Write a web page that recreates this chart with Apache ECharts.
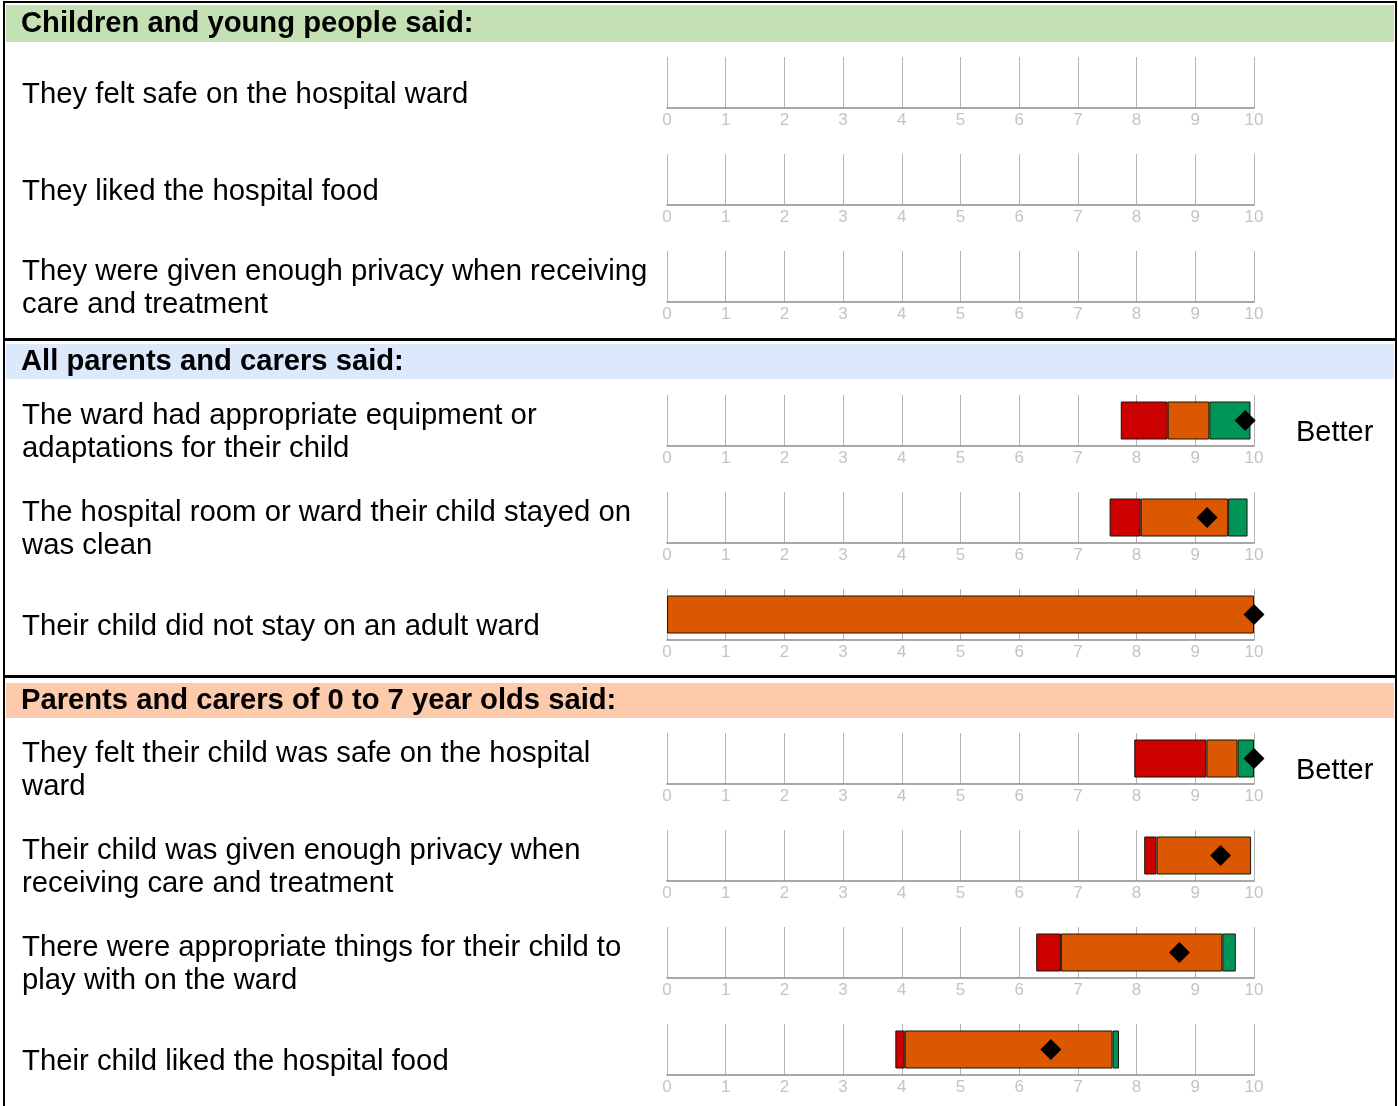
<!DOCTYPE html>
<html>
<head>
<meta charset="utf-8">
<script src="https://cdn.jsdelivr.net/npm/echarts@6/dist/echarts.min.js"></script>
<style>
html,body{margin:0;padding:0;background:#fff;}
#chart{width:1398px;height:1106px;}
</style>
</head>
<body>
<div id="chart"></div>
<script>
// ---- Data ----
const sectionTitles = [
  'Children and young people said:',
  'All parents and carers said:',
  'Parents and carers of 0 to 7 year olds said:'
];
const rowSection = [0, 0, 0, 1, 1, 1, 2, 2, 2, 2];
const rowLabels = [
  'They felt safe on the hospital ward',
  'They liked the hospital food',
  'They were given enough privacy when receiving\ncare and treatment',
  'The ward had appropriate equipment or\nadaptations for their child',
  'The hospital room or ward their child stayed on\nwas clean',
  'Their child did not stay on an adult ward',
  'They felt their child was safe on the hospital\nward',
  'Their child was given enough privacy when\nreceiving care and treatment',
  'There were appropriate things for their child to\nplay with on the ward',
  'Their child liked the hospital food'
];
const rowVerdict = ['', '', '', 'Better', '', '', 'Better', '', '', ''];
// band boundaries (score 0-10); null = no data shown
const bandStart  = [null, null, null, 7.73, 7.54, 0,    7.96, 8.13, 6.29, 3.89];
const redEnd     = [null, null, null, 8.53, 8.07, 0,    9.19, 8.34, 6.71, 4.05];
const orangeEnd  = [null, null, null, 9.24, 9.56, 10,   9.72, 9.95, 9.46, 7.59];
const greenEnd   = [null, null, null, 9.94, 9.89, 10,   10.0, 9.95, 9.69, 7.70];
const trustScore = [null, null, null, 9.85, 9.20, 10,   10.0, 9.43, 8.73, 6.54];
const tickLabels = ['0','1','2','3','4','5','6','7','8','9','10'];

// ---- Layout ----
const axisY = [108, 205, 302, 446, 543, 640, 784, 881, 978, 1075];
const gridLeft = 667, gridWidth = 587, gridH = 51;
const FONT = 'Liberation Sans, Arial, sans-serif';

const chart = echarts.init(document.getElementById('chart'), null, {renderer: 'canvas'});

const grids = [], xAxes = [], yAxes = [], series = [];
function seg(a, b) { return (a == null || b == null || b - a <= 0.0001) ? '-' : +(b - a).toFixed(3); }

axisY.forEach((ay, i) => {
  grids.push({left: gridLeft, top: ay - gridH, width: gridWidth, height: gridH, containLabel: false});
  xAxes.push({
    gridIndex: i, type: 'value', min: 0, max: 10, interval: 1,
    axisLine: {show: true, lineStyle: {color: '#8c8c8c', width: 1.5}},
    axisTick: {show: false},
    splitLine: {show: true, lineStyle: {color: '#b4b4b4', width: 1}},
    axisLabel: {show: true, color: '#c4c4c4', fontSize: 17, fontFamily: FONT, margin: 4,
      formatter: v => tickLabels[Math.round(v)] }
  });
  yAxes.push({
    gridIndex: i, type: 'category', data: [''],
    axisLine: {show: false}, axisTick: {show: false}, axisLabel: {show: false}, splitLine: {show: false}
  });
  if (bandStart[i] != null) {
    const base = bandStart[i] > 0 ? bandStart[i] : '-';
    const parts = [
      {v: base, c: 'transparent', b: 0},
      {v: seg(bandStart[i], redEnd[i]), c: '#cc0000', b: 1},
      {v: seg(redEnd[i], orangeEnd[i]), c: '#db5700', b: 1},
      {v: seg(orangeEnd[i], greenEnd[i]), c: '#009658', b: 1}
    ];
    parts.forEach((p, k) => {
      series.push({
        type: 'bar', xAxisIndex: i, yAxisIndex: i, stack: 's' + i,
        barWidth: 38, silent: true,
        itemStyle: {color: p.c, borderColor: p.b ? '#1e1208' : 'transparent', borderWidth: p.b},
        data: [p.v]
      });
    });
    series.push({
      type: 'scatter', xAxisIndex: i, yAxisIndex: i, symbol: 'diamond', symbolSize: 21,
      clip: false, z: 5, itemStyle: {color: '#000', opacity: 1},
      data: [[trustScore[i], '']]
    });
  }
});

// graphics
const graphics = [];
const bandColors = ['#c5e0b4', '#dce8fb', '#fdcbac'];
const bandY = [[5, 42], [344, 379], [683, 718]];
bandY.forEach((b, s) => {
  graphics.push({type: 'rect', z: -10, shape: {x: 6, y: b[0], width: 1388, height: b[1] - b[0]},
    style: {fill: bandColors[s]}});
  graphics.push({type: 'text', z: 10, x: 21, y: (b[0] + b[1]) / 2 + 0.5,
    style: {text: sectionTitles[s], fill: '#000', font: 'bold 29.2px ' + FONT, verticalAlign: 'middle', align: 'left'}});
});
// frame
graphics.push({type: 'rect', z: 20, shape: {x: 3, y: 1, width: 1394, height: 2}, style: {fill: '#000'}});
graphics.push({type: 'rect', z: 20, shape: {x: 3, y: 1, width: 2, height: 1105}, style: {fill: '#000'}});
graphics.push({type: 'rect', z: 20, shape: {x: 1395, y: 1, width: 2, height: 1105}, style: {fill: '#000'}});
graphics.push({type: 'rect', z: 20, shape: {x: 3, y: 338, width: 1394, height: 3}, style: {fill: '#000'}});
graphics.push({type: 'rect', z: 20, shape: {x: 3, y: 675, width: 1394, height: 3}, style: {fill: '#000'}});

axisY.forEach((ay, i) => {
  graphics.push({type: 'text', z: 10, x: 22, y: ay - 13.5,
    style: {text: rowLabels[i], fill: '#000', font: '29.3px ' + FONT, verticalAlign: 'middle', align: 'left', lineHeight: 33}});
  if (rowVerdict[i]) {
    graphics.push({type: 'text', z: 10, x: 1296, y: ay - 13.5,
      style: {text: rowVerdict[i], fill: '#000', font: '29px ' + FONT, verticalAlign: 'middle', align: 'left'}});
  }
});

chart.setOption({
  animation: false,
  backgroundColor: '#fff',
  grid: grids, xAxis: xAxes, yAxis: yAxes, series: series,
  graphic: graphics
});
</script>
</body>
</html>
